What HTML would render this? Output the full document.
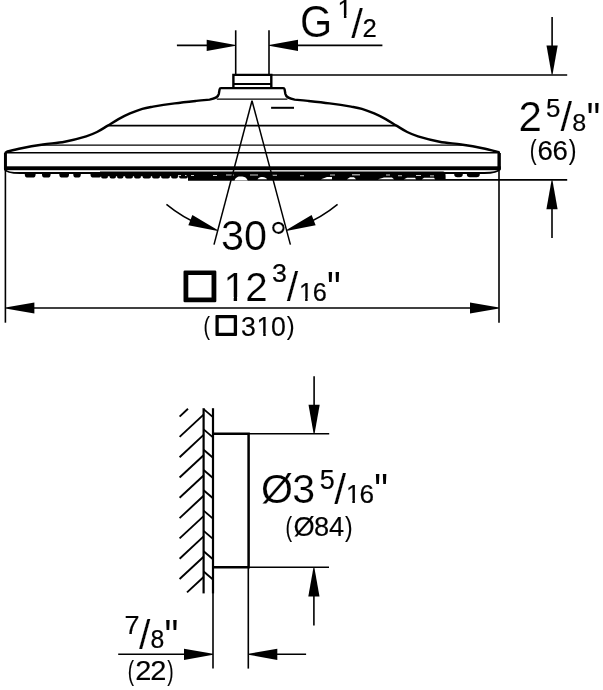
<!DOCTYPE html>
<html><head><meta charset="utf-8"><title>Dimension drawing</title>
<style>html,body{margin:0;padding:0;background:#fff}svg{display:block}</style></head>
<body><svg width="603" height="690" viewBox="0 0 603 690" stroke="#000" fill="none" font-family="'Liberation Sans', sans-serif">
<rect width="603" height="690" fill="#fff" stroke="none"/>
<line x1="235.70" y1="30.30" x2="235.70" y2="74.50" stroke-width="1.6" />
<line x1="269.00" y1="30.30" x2="269.00" y2="74.50" stroke-width="1.6" />
<line x1="176.90" y1="45.40" x2="210.00" y2="45.40" stroke-width="1.6" />
<polygon points="235.70,45.85 206.70,51.00 206.70,39.80 235.70,44.95" fill="#000" stroke="none"/>
<line x1="295.00" y1="45.40" x2="382.40" y2="45.40" stroke-width="1.6" />
<polygon points="269.00,44.95 298.00,39.80 298.00,51.00 269.00,45.85" fill="#000" stroke="none"/>
<line x1="272.00" y1="75.00" x2="567.20" y2="75.00" stroke-width="1.6" />
<line x1="552.10" y1="17.00" x2="552.10" y2="50.00" stroke-width="1.6" />
<polygon points="551.65,74.60 546.50,45.60 557.70,45.60 552.55,74.60" fill="#000" stroke="none"/>
<line x1="188.00" y1="179.90" x2="567.20" y2="179.90" stroke-width="1.6" />
<polygon points="552.45,180.20 557.60,209.20 546.40,209.20 551.55,180.20" fill="#000" stroke="none"/>
<line x1="552.00" y1="205.00" x2="552.00" y2="238.00" stroke-width="1.6" />
<path d="M233.4,88.1 V74.9 H271.3 V88.1" fill="none" stroke-width="2.4"/>
<line x1="233.40" y1="84.00" x2="271.30" y2="84.00" stroke-width="1.8" />
<path d="M5.4,168 V153.2 Q5.4,152.1 6.6,151.8  C8.10,151.45 15.32,149.47 21.60,148.20 C27.88,146.93 35.92,145.58 43.10,144.50 C50.28,143.42 57.52,143.07 64.70,141.70 C71.88,140.33 80.82,137.92 86.20,136.30 C91.58,134.68 93.40,133.78 97.00,132.00 C100.60,130.22 104.22,127.75 107.80,125.60 C111.38,123.45 114.80,121.13 118.50,119.10 C122.20,117.07 126.03,115.12 130.00,113.40 C133.97,111.68 138.45,109.93 142.30,108.80 C146.15,107.67 147.70,107.50 153.10,106.60 C158.50,105.70 167.52,104.35 174.70,103.40 C181.88,102.45 190.40,101.53 196.20,100.90 C202.00,100.27 207.28,99.82 209.50,99.60 C215.0,98.6 218.0,97.6 218.8,94.0 L219.6,89.4 Q219.8,88.1 221.0,88.1 H283.20 Q284.40,88.1 284.60,89.4 L285.40,94.0 C286.20,97.6 289.20,98.6 294.70,99.6 C296.92,99.82 302.20,100.27 308.00,100.90 C313.80,101.53 322.32,102.45 329.50,103.40 C336.68,104.35 345.70,105.70 351.10,106.60 C356.50,107.50 358.05,107.67 361.90,108.80 C365.75,109.93 370.23,111.68 374.20,113.40 C378.17,115.12 382.00,117.07 385.70,119.10 C389.40,121.13 392.82,123.45 396.40,125.60 C399.98,127.75 403.60,130.22 407.20,132.00 C410.80,133.78 412.62,134.68 418.00,136.30 C423.38,137.92 432.32,140.33 439.50,141.70 C446.68,143.07 453.92,143.42 461.10,144.50 C468.28,145.58 476.32,146.93 482.60,148.20 C488.88,149.47 496.10,151.45 498.80,152.10 Q498.80,152.1 498.80,153.2 V168" fill="none" stroke-width="2.4" stroke-linejoin="round"/>
<line x1="5.40" y1="153.00" x2="5.40" y2="169.00" stroke-width="2.9" />
<line x1="499.30" y1="153.00" x2="499.30" y2="169.00" stroke-width="3.1" />
<line x1="216.80" y1="99.10" x2="287.40" y2="99.10" stroke-width="1.4" />
<line x1="108.50" y1="125.60" x2="395.70" y2="125.60" stroke-width="1.9" />
<line x1="40.00" y1="145.10" x2="464.20" y2="145.10" stroke-width="1.3" />
<line x1="5.40" y1="152.70" x2="498.80" y2="152.70" stroke-width="1.4" />
<line x1="271.10" y1="107.80" x2="294.00" y2="107.80" stroke-width="2.0" />
<rect x="4.0" y="166.3" width="496.80" height="3.9" fill="#000" stroke="none"/>
<path d="M5.0,169.5 C6.0,172.0 10,173.0 20,173.1 H484.40 C492.40,173.0 497.90,172.0 499.70,169.3" fill="none" stroke-width="2.0"/>
<path d="M24.8,173.0 V174.4 Q24.8,177.6 28.0,177.6 H32.4 Q35.6,177.6 35.6,174.4 V173.0 Z" fill="#000" stroke="none"/>
<path d="M42.0,173.0 V174.4 Q42.0,177.6 45.2,177.6 H47.4 Q50.6,177.6 50.6,174.4 V173.0 Z" fill="#000" stroke="none"/>
<path d="M59.3,173.0 V174.4 Q59.3,177.6 62.5,177.6 H65.8 Q69.0,177.6 69.0,174.4 V173.0 Z" fill="#000" stroke="none"/>
<path d="M73.3,173.0 V174.4 Q73.3,177.6 76.5,177.6 H77.6 Q80.8,177.6 80.8,174.4 V173.0 Z" fill="#000" stroke="none"/>
<path d="M90.5,173.0 V174.4 Q90.5,177.6 93.7,177.6 H98.1 Q101.3,177.6 101.3,174.4 V173.0 Z" fill="#000" stroke="none"/>
<path d="M100,171.5 V176 L101.0,176.2 Q101.0,178.6 103.0,178.6 H106.0 Q108.0,178.6 108.0,176.2 L109.5,176.2 Q109.5,178.6 111.5,178.6 H114.0 Q116.0,178.6 116.0,176.2 L117.0,176.2 Q117.0,178.6 119.0,178.6 H121.5 Q123.5,178.6 123.5,176.2 L125.0,176.2 Q125.0,178.6 127.0,178.6 H131.0 Q133.0,178.6 133.0,176.2 L134.0,176.2 Q134.0,178.6 136.0,178.6 H139.0 Q141.0,178.6 141.0,176.2 L142.5,176.2 Q142.5,178.6 144.5,178.6 H149.0 Q151.0,178.6 151.0,176.2 L152.0,176.2 Q152.0,178.6 154.0,178.6 H158.0 Q160.0,178.6 160.0,176.2 L161.0,176.2 Q161.0,178.6 163.0,178.6 H168.0 Q170.0,178.6 170.0,176.2 L171.0,176.2 Q171.0,178.6 173.0,178.6 H176.0 Q178.0,178.6 178.0,176.2 L179.0,176.2 Q179.0,178.6 181.0,178.6 H186.0 Q188.0,178.6 188.0,176.2 L188,176.2 V179.4 H445.6 V176 Q445.6,171.5 443,171.5 Z" fill="#000" stroke="none"/>
<rect x="178" y="175.0" width="3" height="0.8" fill="#fff" stroke="none"/>
<rect x="185" y="175.0" width="1.5" height="0.8" fill="#fff" stroke="none"/>
<rect x="191" y="175.0" width="3" height="0.8" fill="#fff" stroke="none"/>
<rect x="213" y="175.0" width="4" height="0.8" fill="#fff" stroke="none"/>
<rect x="226" y="174.6" width="8" height="0.8" fill="#fff" stroke="none"/>
<rect x="250" y="174.6" width="8" height="0.8" fill="#fff" stroke="none"/>
<rect x="272" y="174.8" width="5" height="0.8" fill="#fff" stroke="none"/>
<rect x="300" y="175.4" width="4" height="0.8" fill="#fff" stroke="none"/>
<rect x="330" y="174.6" width="5" height="0.8" fill="#fff" stroke="none"/>
<rect x="352" y="174.4" width="8" height="0.9" fill="#fff" stroke="none"/>
<rect x="386" y="174.6" width="4" height="0.8" fill="#fff" stroke="none"/>
<rect x="398" y="175.4" width="4" height="0.8" fill="#fff" stroke="none"/>
<rect x="416" y="175.2" width="5" height="0.8" fill="#fff" stroke="none"/>
<rect x="430" y="175.5" width="4" height="0.8" fill="#fff" stroke="none"/>
<path d="M234.5,180.6 C236,177 238,176.6 241,176.6 C244.5,176.6 246,177.5 247.8,180.6 Z" fill="#fff" stroke="none"/>
<path d="M257.5,179.2 C259,177.2 261,177 262.5,177 C265,177 266,178 267,179.2 Z" fill="#fff" stroke="none"/>
<path d="M321,179.3 L327,177 H332 V179.3 Z" fill="#fff" stroke="none"/>
<path d="M347,179.3 L350,177.2 H354 L356,179.3 Z" fill="#fff" stroke="none"/>
<path d="M378,179.3 L384,177.6 H392 L394,179.3 Z" fill="#fff" stroke="none"/>
<path d="M404,179.3 L407,177.8 H415 L416,179.3 Z" fill="#fff" stroke="none"/>
<path d="M422,179.3 L424,177.8 H434 L435,179.3 Z" fill="#fff" stroke="none"/>
<path d="M454.2,173.0 V174.0 Q454.2,177.2 457.4,177.2 H459.6 Q462.8,177.2 462.8,174.0 V173.0 Z" fill="#000" stroke="none"/>
<path d="M466.8,173.0 V174.0 Q466.8,177.2 470.0,177.2 H476.6 Q479.8,177.2 479.8,174.0 V173.0 Z" fill="#000" stroke="none"/>
<line x1="252.00" y1="100.70" x2="214.00" y2="244.60" stroke-width="1.5" />
<line x1="252.00" y1="100.70" x2="290.40" y2="244.60" stroke-width="1.5" />
<path d="M166.46,204.37 A134.4,134.4 0 0 0 201.65,225.31" fill="none" stroke-width="1.5"/>
<path d="M337.54,204.37 A134.4,134.4 0 0 1 302.35,225.31" fill="none" stroke-width="1.5"/>
<polygon points="217.73,231.12 188.35,225.36 192.36,214.90 218.06,230.28" fill="#000" stroke="none"/>
<polygon points="285.94,230.28 311.64,214.90 315.65,225.36 286.27,231.12" fill="#000" stroke="none"/>
<line x1="5.40" y1="170.00" x2="5.40" y2="322.70" stroke-width="1.6" />
<line x1="499.00" y1="170.00" x2="499.00" y2="322.70" stroke-width="1.6" />
<line x1="30.00" y1="308.00" x2="474.00" y2="308.00" stroke-width="1.6" />
<polygon points="5.40,307.55 34.40,302.40 34.40,313.60 5.40,308.45" fill="#000" stroke="none"/>
<polygon points="499.00,308.45 470.00,313.60 470.00,302.40 499.00,307.55" fill="#000" stroke="none"/>
<line x1="203.60" y1="408.20" x2="203.60" y2="593.40" stroke-width="2.2" />
<line x1="213.00" y1="408.20" x2="213.00" y2="593.40" stroke-width="2.2" />
<g stroke-width="1.5">
<line x1="187.99" y1="408.80" x2="179.60" y2="416.60" stroke-width="1.9" />
<line x1="203.60" y1="414.60" x2="179.60" y2="436.90" stroke-width="1.9" />
<line x1="203.60" y1="434.90" x2="179.60" y2="457.20" stroke-width="1.9" />
<line x1="203.60" y1="455.20" x2="179.60" y2="477.50" stroke-width="1.9" />
<line x1="203.60" y1="475.50" x2="179.60" y2="497.80" stroke-width="1.9" />
<line x1="203.60" y1="495.80" x2="179.60" y2="518.10" stroke-width="1.9" />
<line x1="203.60" y1="516.10" x2="179.60" y2="538.40" stroke-width="1.9" />
<line x1="203.60" y1="536.40" x2="179.60" y2="558.70" stroke-width="1.9" />
<line x1="203.60" y1="556.70" x2="179.60" y2="579.00" stroke-width="1.9" />
<line x1="203.60" y1="577.00" x2="187.03" y2="592.40" stroke-width="1.9" />
<line x1="203.60" y1="409.10" x2="213.00" y2="417.10" stroke-width="1.9" />
<line x1="203.60" y1="429.40" x2="213.00" y2="437.40" stroke-width="1.9" />
<line x1="203.60" y1="449.70" x2="213.00" y2="457.70" stroke-width="1.9" />
<line x1="203.60" y1="470.00" x2="213.00" y2="478.00" stroke-width="1.9" />
<line x1="203.60" y1="490.30" x2="213.00" y2="498.30" stroke-width="1.9" />
<line x1="203.60" y1="510.60" x2="213.00" y2="518.60" stroke-width="1.9" />
<line x1="203.60" y1="530.90" x2="213.00" y2="538.90" stroke-width="1.9" />
<line x1="203.60" y1="551.20" x2="213.00" y2="559.20" stroke-width="1.9" />
<line x1="203.60" y1="571.50" x2="213.00" y2="579.50" stroke-width="1.9" />
</g>
<path d="M213.0,433.8 H248.6 V567.2 H213.0" fill="none" stroke-width="2.5"/>
<line x1="248.50" y1="433.80" x2="329.20" y2="433.80" stroke-width="1.6" />
<line x1="248.50" y1="567.30" x2="329.00" y2="567.30" stroke-width="1.6" />
<line x1="314.10" y1="376.30" x2="314.10" y2="408.00" stroke-width="1.6" />
<polygon points="313.65,433.80 308.50,404.80 319.70,404.80 314.55,433.80" fill="#000" stroke="none"/>
<polygon points="314.35,567.50 319.50,596.50 308.30,596.50 313.45,567.50" fill="#000" stroke="none"/>
<line x1="313.90" y1="592.00" x2="313.90" y2="625.50" stroke-width="1.6" />
<line x1="213.00" y1="592.00" x2="213.00" y2="668.60" stroke-width="1.6" />
<line x1="248.30" y1="567.00" x2="248.30" y2="668.60" stroke-width="1.6" />
<line x1="118.20" y1="654.30" x2="188.00" y2="654.30" stroke-width="1.6" />
<polygon points="213.00,654.75 184.00,659.90 184.00,648.70 213.00,653.85" fill="#000" stroke="none"/>
<polygon points="248.30,653.85 277.30,648.70 277.30,659.90 248.30,654.75" fill="#000" stroke="none"/>
<line x1="273.00" y1="654.30" x2="306.10" y2="654.30" stroke-width="1.6" />
<g fill="#000" stroke="none" opacity="0.999" font-family="'Liberation Sans', sans-serif">
<text transform="scale(1.0085 1.0748)" x="297.41" y="34.76" font-size="41" stroke="#fff" stroke-width="0.2" stroke-linejoin="round">G</text>
<text transform="scale(0.9944 1.0007)" x="339.42" y="17.69" font-size="26" stroke="#000" stroke-width="0.2" stroke-linejoin="round">1</text>
<rect x="338.07" y="15.00" width="5.84" height="4.00" fill="#fff" stroke="none"/>
<rect x="346.42" y="15.00" width="5.32" height="4.00" fill="#fff" stroke="none"/>
<text transform="scale(1.0265 1.0022)" x="342.13" y="37.61" font-size="41" stroke="#fff" stroke-width="0.2" stroke-linejoin="round">/</text>
<text transform="scale(0.9868 0.9643)" x="367.45" y="38.16" font-size="26" stroke="#000" stroke-width="0.2" stroke-linejoin="round">2</text>
<text transform="scale(1.0270 1.0168)" x="504.79" y="129.03" font-size="41" stroke="#fff" stroke-width="0.2" stroke-linejoin="round">2</text>
<text transform="scale(0.9981 1.0249)" x="547.13" y="114.29" font-size="26" stroke="#000" stroke-width="0.2" stroke-linejoin="round">5</text>
<text transform="scale(1.0177 0.9955)" x="550.74" y="132.08" font-size="41" stroke="#fff" stroke-width="0.2" stroke-linejoin="round">/</text>
<text transform="scale(0.9656 0.9072)" x="592.69" y="144.36" font-size="26" stroke="#000" stroke-width="0.2" stroke-linejoin="round">8</text>
<text transform="scale(0.9248 1.1292)" x="634.46" y="119.42" font-size="41">&quot;</text>
<text transform="scale(0.7910 1.0296)" x="669.78" y="154.89" font-size="26" stroke="#000" stroke-width="0.15" stroke-linejoin="round">(</text>
<text transform="scale(1.0637 1.0838)" x="505.31 519.50" y="147.58" font-size="26" stroke="#000" stroke-width="0.15" stroke-linejoin="round">66</text>
<text transform="scale(0.8926 1.0296)" x="637.17" y="154.89" font-size="26" stroke="#000" stroke-width="0.15" stroke-linejoin="round">)</text>
<text transform="scale(1.0095 1.0318)" x="218.88 241.64" y="242.43" font-size="41" stroke="#fff" stroke-width="0.2" stroke-linejoin="round">30</text>
<text transform="scale(1.1150 1.0879)" x="241.58" y="232.68" font-size="41" stroke="#fff" stroke-width="0.2" stroke-linejoin="round">°</text>
<text transform="scale(0.9845 1.0099)" x="227.00 249.09" y="298.16" font-size="41" stroke="#fff" stroke-width="0.2" stroke-linejoin="round">12</text>
<rect x="224.79" y="297.00" width="8.90" height="6.00" fill="#fff" stroke="none"/>
<rect x="237.08" y="297.00" width="8.09" height="6.00" fill="#fff" stroke="none"/>
<text transform="scale(1.0305 0.9778)" x="264.03" y="287.93" font-size="26" stroke="#000" stroke-width="0.2" stroke-linejoin="round">3</text>
<text transform="scale(1.0089 1.0088)" x="284.26" y="298.86" font-size="41" stroke="#fff" stroke-width="0.2" stroke-linejoin="round">/</text>
<text transform="scale(0.9722 1.0104)" x="307.47 321.62" y="297.93" font-size="26" stroke="#000" stroke-width="0.2" stroke-linejoin="round">16</text>
<rect x="299.44" y="298.00" width="5.71" height="5.00" fill="#fff" stroke="none"/>
<rect x="307.62" y="298.00" width="5.21" height="5.00" fill="#fff" stroke="none"/>
<text transform="scale(0.9430 1.1066)" x="346.71" y="274.46" font-size="41">&quot;</text>
<text transform="scale(0.7475 1.0255)" x="272.35" y="326.67" font-size="26" stroke="#000" stroke-width="0.15" stroke-linejoin="round">(</text>
<text transform="matrix(1 0 0 0.9727 214.19 332.15)" font-family="'DejaVu Sans', sans-serif" font-size="25.85" stroke="#000" stroke-width="1.88" stroke-linejoin="round">□</text>
<text transform="scale(1.0259 1.0946)" x="234.87 250.13 264.18" y="306.72" font-size="26" stroke="#000" stroke-width="0.15" stroke-linejoin="round">310</text>
<rect x="257.21" y="333.00" width="6.01" height="5.00" fill="#fff" stroke="none"/>
<rect x="265.75" y="333.00" width="5.47" height="5.00" fill="#fff" stroke="none"/>
<text transform="scale(0.9071 1.0255)" x="316.10" y="326.67" font-size="26" stroke="#000" stroke-width="0.15" stroke-linejoin="round">)</text>
<text transform="scale(1.0031 1.0094)" x="260.08 291.29" y="498.61" font-size="41" stroke="#fff" stroke-width="0.2" stroke-linejoin="round">Ø3</text>
<text transform="scale(1.0346 1.0304)" x="308.99" y="474.40" font-size="26" stroke="#000" stroke-width="0.2" stroke-linejoin="round">5</text>
<text transform="scale(1.0397 1.0187)" x="321.40" y="494.51" font-size="41" stroke="#fff" stroke-width="0.2" stroke-linejoin="round">/</text>
<text transform="scale(1.0067 0.9941)" x="343.60 357.20" y="506.41" font-size="26" stroke="#000" stroke-width="0.2" stroke-linejoin="round">16</text>
<rect x="346.44" y="500.00" width="5.90" height="5.00" fill="#fff" stroke="none"/>
<rect x="354.89" y="500.00" width="5.38" height="5.00" fill="#fff" stroke="none"/>
<text transform="scale(0.9430 1.1066)" x="396.87" y="457.36" font-size="41">&quot;</text>
<text transform="scale(0.7620 1.0461)" x="374.75" y="512.07" font-size="26" stroke="#000" stroke-width="0.15" stroke-linejoin="round">(</text>
<text transform="scale(1.0487 1.0892)" x="279.89 299.43 313.62" y="492.42" font-size="26" stroke="#000" stroke-width="0.15" stroke-linejoin="round">Ø84</text>
<text transform="scale(0.8781 1.0461)" x="392.94" y="512.07" font-size="26" stroke="#000" stroke-width="0.15" stroke-linejoin="round">)</text>
<text transform="scale(1.0397 1.0230)" x="119.76" y="619.92" font-size="26" stroke="#000" stroke-width="0.2" stroke-linejoin="round">7</text>
<text transform="scale(1.0002 0.9988)" x="138.88" y="649.34" font-size="41" stroke="#fff" stroke-width="0.2" stroke-linejoin="round">/</text>
<text transform="scale(0.9534 0.9751)" x="157.95" y="664.79" font-size="26" stroke="#000" stroke-width="0.2" stroke-linejoin="round">8</text>
<text transform="scale(0.9520 1.1405)" x="172.71" y="572.02" font-size="41">&quot;</text>
<text transform="scale(0.7257 1.0420)" x="176.12" y="652.60" font-size="26" stroke="#000" stroke-width="0.15" stroke-linejoin="round">(</text>
<text transform="scale(1.1176 1.0387)" x="121.00 134.51" y="654.31" font-size="26" stroke="#000" stroke-width="0.15" stroke-linejoin="round">22</text>
<text transform="scale(0.7329 1.0420)" x="228.07" y="652.60" font-size="26" stroke="#000" stroke-width="0.15" stroke-linejoin="round">)</text>
<text transform="matrix(1 0 0 0.9677 180.93 296.36)" font-family="'DejaVu Sans', sans-serif" font-size="39.41" stroke="#000" stroke-width="2.63" stroke-linejoin="round">□</text>
</g>
</svg></body></html>
